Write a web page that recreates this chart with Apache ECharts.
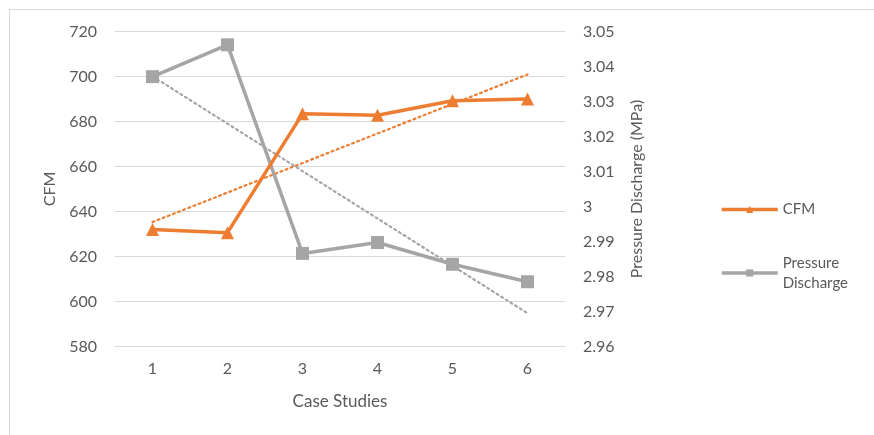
<!DOCTYPE html>
<html>
<head>
<meta charset="utf-8">
<script src="https://cdn.jsdelivr.net/npm/echarts@6/dist/echarts.min.js"></script>
<style>
html,body{margin:0;padding:0;background:#fff;}
#c{width:874px;height:435px;position:absolute;left:0;top:0;}
#frame{position:absolute;left:9px;top:9px;width:870px;height:430px;border:1px solid #d9d9d9;box-sizing:border-box;pointer-events:none;}
</style>
</head>
<body>
<div id="c"></div>
<div id="frame"></div>
<script>
var categories = ['1', '2', '3', '4', '5', '6'];
var cfmValues = [632, 630.6, 683.4, 682.8, 689.2, 690];
var pressureValues = [3.0371, 3.0462, 2.9866, 2.9897, 2.9835, 2.9785];
var cfmTrend = [635.3, null, null, null, null, 700.9];
var pressureTrend = [3.0372, null, null, null, null, 2.9695];
var cfmTicks = {min: 580, max: 720, interval: 20};
var pressureTicks = {min: 2.96, max: 3.05, interval: 0.01};

var FONT = 'Lato';
var TXT = '#595959';
var ORANGE = '#ED7D31';
var GREY = '#A5A5A5';

var chart = echarts.init(document.getElementById('c'), null, {renderer: 'canvas'});
chart.setOption({
  animation: false,
  textStyle: {fontFamily: FONT},
  grid: {left: 115, right: 309, top: 31.5, bottom: 88.5, containLabel: false},
  legend: [{
    orient: 'vertical', left: 715, top: 197,
    itemWidth: 56, itemHeight: 9,
    lineStyle: {width: 3.5},
    textStyle: {fontFamily: FONT, fontSize: 15, color: TXT},
    data: [{name: 'CFM'}]
  }, {
    orient: 'vertical', left: 715, top: 232,
    itemWidth: 56, itemHeight: 9,
    lineStyle: {width: 3.5},
    formatter: function (n) { return n === 'Pressure Discharge' ? 'Pressure\nDischarge' : n; },
    textStyle: {fontFamily: FONT, fontSize: 15, color: TXT, lineHeight: 20, padding: [32, 0, 0, 0]},
    data: [{name: 'Pressure Discharge'}]
  }],
  xAxis: {
    type: 'category', data: categories, boundaryGap: true,
    name: 'Case Studies', nameLocation: 'middle', nameGap: 47,
    nameTextStyle: {fontFamily: FONT, fontSize: 17, color: TXT},
    axisLine: {show: true, lineStyle: {color: '#d9d9d9'}},
    axisTick: {show: false},
    axisLabel: {fontFamily: FONT, fontSize: 16, color: TXT, margin: 14}
  },
  yAxis: [{
    type: 'value', min: cfmTicks.min, max: cfmTicks.max, interval: cfmTicks.interval,
    name: 'CFM', nameLocation: 'middle', nameGap: 57,
    nameTextStyle: {fontFamily: FONT, fontSize: 16, color: TXT},
    axisLine: {show: false}, axisTick: {show: false},
    axisLabel: {fontFamily: FONT, fontSize: 16, color: TXT, margin: 18},
    splitLine: {show: true, lineStyle: {color: '#d9d9d9', width: 1}}
  }, {
    type: 'value', min: pressureTicks.min, max: pressureTicks.max, interval: pressureTicks.interval,
    name: 'Pressure Discharge (MPa)', nameLocation: 'middle', nameGap: 64,
    nameTextStyle: {fontFamily: FONT, fontSize: 16, color: TXT},
    axisLine: {show: false}, axisTick: {show: false},
    axisLabel: {fontFamily: FONT, fontSize: 16, color: TXT, margin: 18,
      formatter: function (v) { return String(parseFloat(v.toFixed(2))); }},
    splitLine: {show: false}
  }],
  series: [{
    name: 'CFM trend', type: 'line', yAxisIndex: 0, data: cfmTrend, connectNulls: true,
    symbol: 'none', silent: true, z: 1,
    lineStyle: {color: ORANGE, width: 2.2, type: [2, 3.5], cap: 'round'}
  }, {
    name: 'Pressure trend', type: 'line', yAxisIndex: 1, data: pressureTrend, connectNulls: true,
    symbol: 'none', silent: true, z: 1,
    lineStyle: {color: GREY, width: 2.2, type: [2, 3.5], cap: 'round'}
  }, {
    name: 'CFM', type: 'line', yAxisIndex: 0, data: cfmValues, z: 3,
    symbol: 'triangle', symbolSize: 13,
    lineStyle: {color: ORANGE, width: 3.5}, itemStyle: {color: ORANGE}
  }, {
    name: 'Pressure Discharge', type: 'line', yAxisIndex: 1, data: pressureValues, z: 2,
    symbol: 'rect', symbolSize: 13,
    lineStyle: {color: GREY, width: 3.5}, itemStyle: {color: GREY}
  }]
});
</script>
</body>
</html>
